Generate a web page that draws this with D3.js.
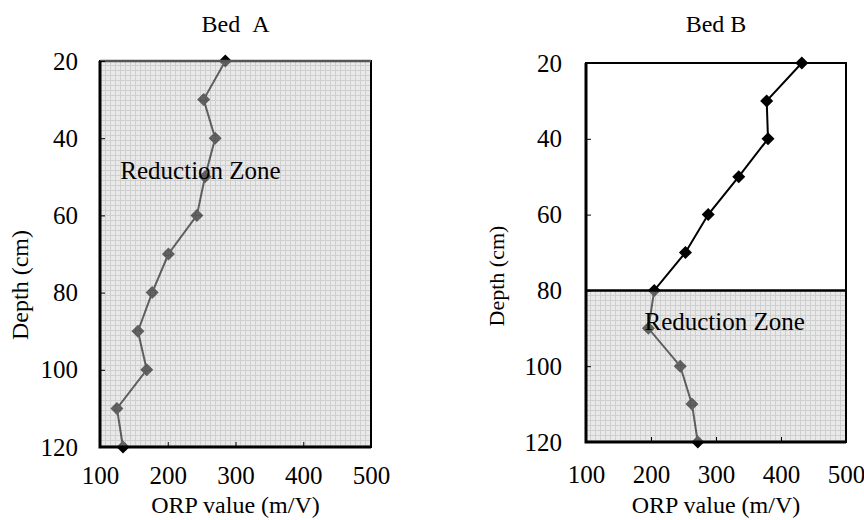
<!DOCTYPE html>
<html>
<head>
<meta charset="utf-8">
<script src="https://cdn.jsdelivr.net/npm/d3@7"></script>
<style>
  body { margin: 0; background: #fff; }
</style>
</head>
<body>
<div id="chart"></div>
<script>
// depth (cm) of each reading
const depths = [20, 30, 40, 50, 60, 70, 80, 90, 100, 110, 120];
// ORP value (m/V) per depth
const bedA = [285, 253, 270, 255, 243, 201, 177, 156, 169, 125, 134];
const bedB = [432, 378, 380, 335, 288, 253, 205, 196, 245, 263, 272];

const xTicks = [100, 200, 300, 400, 500];
const yTicks = [20, 40, 60, 80, 100, 120];

const FONT = 'Liberation Serif';

const svg = d3.select('#chart')
  .append('svg')
  .attr('width', 864)
  .attr('height', 520);

// grey hatch used for the reduction zone
const defs = svg.append('defs');
const pat = defs.append('pattern')
  .attr('id', 'hatch')
  .attr('width', 5)
  .attr('height', 5)
  .attr('patternUnits', 'userSpaceOnUse');
pat.append('rect').attr('width', 5).attr('height', 5).attr('fill', '#e9e9e9');
pat.append('path').attr('d', 'M0,0.5H5M0.5,0V5').attr('stroke', '#cfcfcf').attr('stroke-width', 1);

const diamond = d3.symbol(d3.symbolSquare, 85);

function label(g, txt, size) {
  return g.append('text')
    .attr('font-family', FONT)
    .style('font-family', FONT)
    .attr('font-size', size)
    .attr('fill', '#000')
    .text(txt);
}

function panel(opts) {
  const { left, right, top, bottom, values, title, zoneFrom, zoneText, tickPadY, tickPadX, fs } = opts;

  const x = d3.scaleLinear().domain([100, 500]).range([left, right]);
  const y = d3.scaleLinear().domain([20, 120]).range([top, bottom]);
  const pts = depths.map((d, i) => ({ depth: d, orp: values[i] }));

  const g = svg.append('g');

  // zone background
  g.append('rect')
    .attr('x', left)
    .attr('y', y(zoneFrom))
    .attr('width', right - left)
    .attr('height', bottom - y(zoneFrom))
    .attr('fill', 'url(#hatch)');

  // profile
  const line = d3.line().x(d => x(d.orp)).y(d => y(d.depth));
  g.append('path')
    .datum(pts)
    .attr('d', line)
    .attr('fill', 'none')
    .attr('stroke', '#000')
    .attr('stroke-width', 2);

  g.selectAll('.pt')
    .data(pts)
    .enter()
    .append('path')
    .attr('d', diamond)
    .attr('transform', d => `translate(${x(d.orp)},${y(d.depth)}) rotate(45)`)
    .attr('fill', '#000');

  // zone overlay dims the line inside the zone
  g.append('rect')
    .attr('x', left)
    .attr('y', y(zoneFrom))
    .attr('width', right - left)
    .attr('height', bottom - y(zoneFrom))
    .attr('fill', 'url(#hatch)')
    .attr('opacity', 0.42);

  // frame
  g.append('rect')
    .attr('x', left)
    .attr('y', top)
    .attr('width', right - left)
    .attr('height', bottom - top)
    .attr('fill', 'none')
    .attr('stroke', '#000')
    .attr('stroke-width', 2);
  if (zoneFrom > 20) {
    g.append('line')
      .attr('x1', left).attr('x2', right)
      .attr('y1', y(zoneFrom)).attr('y2', y(zoneFrom))
      .attr('stroke', '#000').attr('stroke-width', 2.5);
  } else {
    g.append('line')
      .attr('x1', left).attr('x2', right)
      .attr('y1', top).attr('y2', top)
      .attr('stroke', '#555').attr('stroke-width', 2.5);
  }
  g.append('path')
    .attr('d', `M${left},${top}V${bottom}H${right}`)
    .attr('fill', 'none')
    .attr('stroke', '#000')
    .attr('stroke-width', 3);

  // axes
  const ay = g.append('g')
    .attr('transform', `translate(${left},0)`)
    .call(d3.axisLeft(y).tickValues(yTicks).tickSize(-5).tickPadding(tickPadY));
  const ax = g.append('g')
    .attr('transform', `translate(0,${bottom})`)
    .call(d3.axisBottom(x).tickValues(xTicks).tickSize(-5).tickPadding(tickPadX));
  [ay, ax].forEach(a => {
    a.attr('font-family', FONT).attr('font-size', fs.tick);
    a.select('.domain').remove();
    a.selectAll('.tick line').attr('stroke', '#000');
    a.selectAll('text')
      .attr('font-family', FONT)
      .style('font-family', FONT)
      .attr('font-size', fs.tick)
      .attr('fill', '#000');
  });

  // texts
  label(g, title, fs.title)
    .attr('x', (left + right) / 2)
    .attr('y', 32)
    .attr('text-anchor', 'middle');

  label(g, 'ORP value (m/V)', fs.label)
    .attr('x', (left + right) / 2)
    .attr('y', 513)
    .attr('text-anchor', 'middle');

  label(g, 'Depth (cm)', fs.depth)
    .attr('transform', `translate(${opts.depthX},${opts.depthY}) rotate(-90)`)
    .attr('text-anchor', 'middle');

  label(g, 'Reduction Zone', fs.zone)
    .attr('x', x(zoneText[0]))
    .attr('y', y(zoneText[1]));
}

panel({
  left: 100, right: 371, top: 61, bottom: 447,
  values: bedA, title: 'Bed\u00a0\u00a0A', zoneFrom: 20, zoneText: [130, 50.5],
  tickPadY: 22, tickPadX: 19, depthX: 28, depthY: 285,
  fs: { tick: 25, title: 24, label: 24, depth: 24, zone: 25 }
});

panel({
  left: 586, right: 846, top: 63, bottom: 442,
  values: bedB, title: 'Bed B', zoneFrom: 80, zoneText: [190, 90.5],
  tickPadY: 24, tickPadX: 23, depthX: 504, depthY: 276,
  fs: { tick: 25, title: 24, label: 24, depth: 22, zone: 25 }
});
</script>
</body>
</html>
